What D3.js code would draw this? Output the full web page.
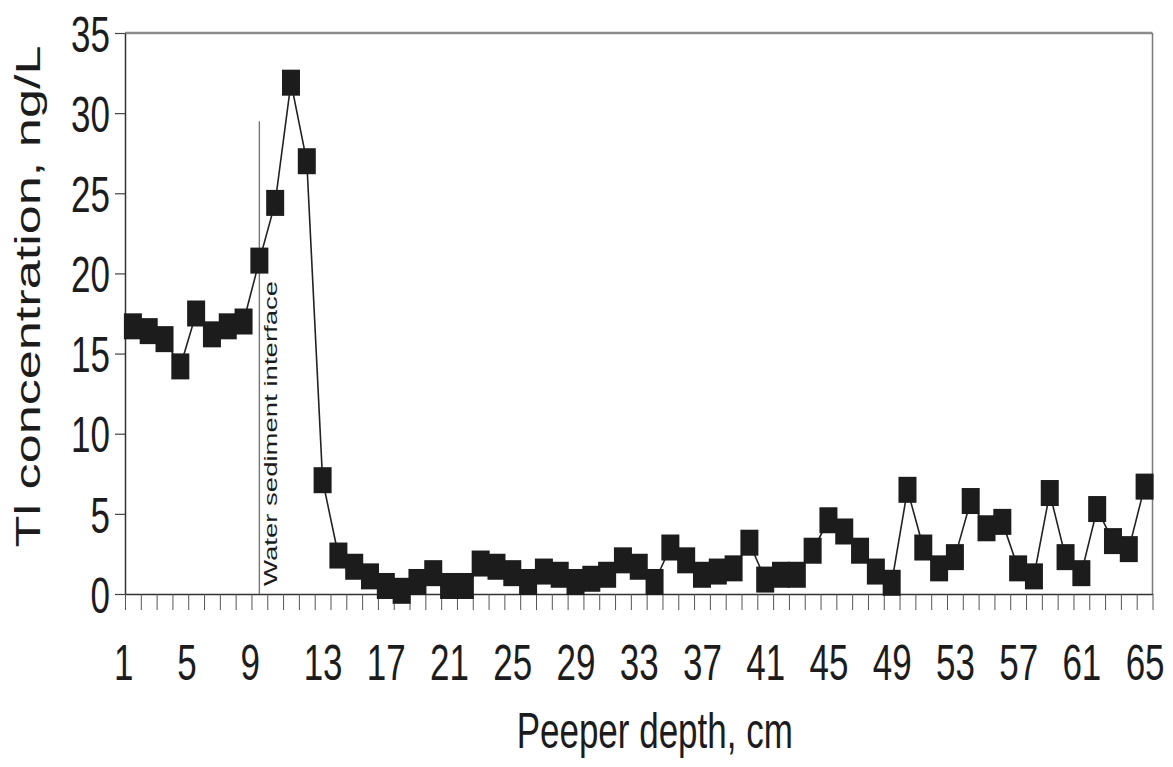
<!DOCTYPE html>
<html><head><meta charset="utf-8">
<script src="https://cdn.jsdelivr.net/npm/d3@7"></script>
<style>body{margin:0;background:#fff}</style>
</head><body>
<svg id="c" width="1173" height="767"></svg>
<script>
// ---- data ----
const depths = [1,2,3,4,5,6,7,8,9,10,11,12,13,14,15,16,17,18,19,20,21,22,23,24,25,26,27,28,29,30,31,32,33,34,35,36,37,38,39,40,41,42,43,44,45,46,47,48,49,50,51,52,53,54,55,56,57,58,59,60,61,62,63,64,65];
const tlConc = [16.7,16.4,15.9,14.2,17.5,16.2,16.7,17.0,20.8,24.4,31.9,27.0,7.1,2.4,1.7,1.1,0.5,0.2,0.75,1.3,0.5,0.5,1.9,1.7,1.3,0.75,1.4,1.2,0.75,0.95,1.2,2.1,1.7,0.75,2.9,2.1,1.2,1.4,1.6,3.2,0.9,1.2,1.2,2.7,4.6,3.9,2.7,1.4,0.7,6.5,2.9,1.6,2.3,5.8,4.1,4.5,1.6,1.1,6.3,2.3,1.3,5.3,3.3,2.8,6.7];
const xTickLabels = [1,5,9,13,17,21,25,29,33,37,41,45,49,53,57,61,65];
const yTicks = [0,5,10,15,20,25,30,35];
const interfaceDepth = 9;
const interfaceTop = 29.5;
const interfaceLabel = "Water sediment interface";
const xTitle = "Peeper depth, cm";
const yTitle = "Tl concentration, ng/L";

// ---- layout ----
const W = 1173, H = 767;
const pL = 125, pR = 1152.5, pT = 33, pB = 594;
const SY = 1.45;           // vertical stretch of the reference image
const FS = 35;             // main font size
const FONT = "'Liberation Sans', Arial, Helvetica, sans-serif";
const INK = "#1c1c1c";

const svg = d3.select("#c");
svg.append("rect").attr("width", W).attr("height", H).attr("fill", "#fff");

const x = d3.scaleLinear().domain([0.5, depths.length + 0.5]).range([pL, pR]);
const y = d3.scaleLinear().domain([0, 35]).range([pB, pT]);

// frame: top and right
svg.append("line").attr("x1", pL).attr("x2", pR).attr("y1", pT).attr("y2", pT)
  .attr("stroke", "#8c8c8c").attr("stroke-width", 2.5);
svg.append("line").attr("x1", pR).attr("x2", pR).attr("y1", pT).attr("y2", pB)
  .attr("stroke", "#7a7a7a").attr("stroke-width", 1.5);

// y axis
const yAxis = svg.append("g").attr("transform", `translate(${pL},0)`)
  .call(d3.axisLeft(y).tickValues(yTicks).tickSize(10).tickSizeOuter(0).tickPadding(0));
yAxis.select(".domain").attr("stroke", "#333").attr("stroke-width", 1.5);
yAxis.selectAll(".tick line").attr("stroke", "#444").attr("stroke-width", 1.2);
yAxis.selectAll(".tick text")
  .attr("x", 0).attr("dy", null)
  .attr("transform", `translate(-15,${0.358 * FS * SY}) scale(1,${SY})`)
  .attr("text-anchor", "end")
  .attr("font-family", FONT).attr("font-size", FS).attr("fill", INK);

// x axis: tick marks at category boundaries
const boundaries = depths.map(d => d + 0.5);
boundaries.unshift(0.5);
const xAxis = svg.append("g").attr("transform", `translate(0,${pB})`)
  .call(d3.axisBottom(x).tickValues(boundaries).tickSize(16).tickSizeOuter(0).tickFormat(""));
xAxis.select(".domain").attr("stroke", "#333").attr("stroke-width", 1.5);
xAxis.selectAll(".tick line").attr("stroke", "#555").attr("stroke-width", 1);

// x axis labels
const xLab = svg.append("g").attr("transform", `translate(0,${pB})`)
  .call(d3.axisBottom(x).tickValues(xTickLabels).tickSize(0).tickFormat(d => d));
xLab.select(".domain").remove();
xLab.selectAll(".tick text")
  .attr("y", 0).attr("dy", null)
  .attr("text-anchor", "start")
  .attr("transform", `translate(${-0.556 * FS},86) scale(1,${SY})`)
  .attr("font-family", FONT).attr("font-size", FS).attr("fill", INK);

// water–sediment interface line
svg.append("line")
  .attr("x1", x(interfaceDepth)).attr("x2", x(interfaceDepth))
  .attr("y1", y(0)).attr("y2", y(interfaceTop))
  .attr("stroke", "#777").attr("stroke-width", 1.4);
svg.append("text")
  .attr("transform", `translate(${x(interfaceDepth) + 17.5},${y(0) - 8}) scale(1,${SY}) rotate(-90)`)
  .attr("font-family", FONT).attr("font-size", 19).attr("fill", INK)
  .text(interfaceLabel);

// series
const pts = depths.map((d, i) => ({ d, v: tlConc[i] }));
svg.append("path").datum(pts)
  .attr("d", d3.line().x(p => x(p.d)).y(p => y(p.v)))
  .attr("fill", "none").attr("stroke", "#222").attr("stroke-width", 1.6);
svg.append("g").selectAll("rect").data(pts).join("rect")
  .attr("x", p => x(p.d) - 9).attr("y", p => y(p.v) - 13)
  .attr("width", 18).attr("height", 26).attr("fill", INK);

// axis titles
svg.append("text")
  .attr("transform", `translate(${(pL + pR) / 2 + 16},748) scale(1,${SY})`)
  .attr("text-anchor", "middle")
  .attr("font-family", FONT).attr("font-size", FS).attr("fill", INK)
  .text(xTitle);
svg.append("text")
  .attr("transform", `translate(40,${(pT + pB) / 2 - 17}) scale(1,${SY}) rotate(-90)`)
  .attr("text-anchor", "middle")
  .attr("font-family", FONT).attr("font-size", 36).attr("fill", INK)
  .text(yTitle);
</script>
</body></html>
